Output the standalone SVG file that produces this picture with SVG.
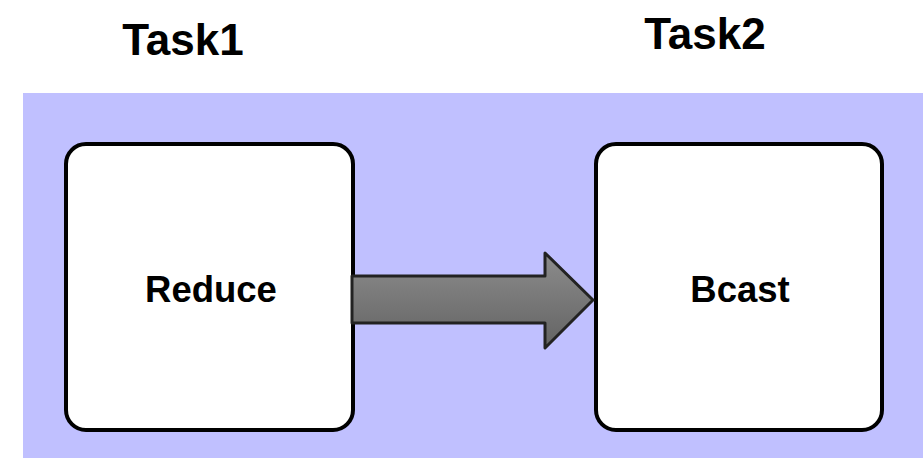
<svg xmlns="http://www.w3.org/2000/svg" width="923" height="458" viewBox="0 0 923 458">
  <defs>
    <linearGradient id="arrowFill" x1="0" y1="0" x2="0" y2="1">
      <stop offset="0" stop-color="#8c8c8c"/>
      <stop offset="1" stop-color="#636363"/>
    </linearGradient>
    <style>
      .title { font-family: "Liberation Sans", Arial, sans-serif; font-weight: bold; font-size: 44px; fill: #000; text-anchor: middle; }
      .label { font-family: "Liberation Sans", Arial, sans-serif; font-weight: bold; font-size: 36.5px; fill: #000; text-anchor: middle; }
      .box { fill: #fff; stroke: #000; stroke-width: 4; }
    </style>
  </defs>
  <rect width="923" height="458" fill="#fff"/>
  <!-- shared background panel -->
  <rect x="23" y="93" width="900" height="365" fill="#c0c0ff"/>

  <text class="title" x="183" y="55">Task1</text>
  <text class="title" x="705" y="49">Task2</text>

  <g id="reduce">
    <rect class="box" x="66" y="144" width="287" height="286" rx="20"/>
    <text class="label" x="211" y="302">Reduce</text>
  </g>

  <g id="bcast">
    <rect class="box" x="596" y="144" width="286" height="286" rx="20"/>
    <text class="label" x="740" y="302">Bcast</text>
  </g>

  <g id="connectors">
    <path d="M352,276 L545,276 L545,253 L593,300 L545,348 L545,323 L352,323 Z" fill="url(#arrowFill)" stroke="#222" stroke-width="3" stroke-linejoin="round"/>
  </g>
</svg>
